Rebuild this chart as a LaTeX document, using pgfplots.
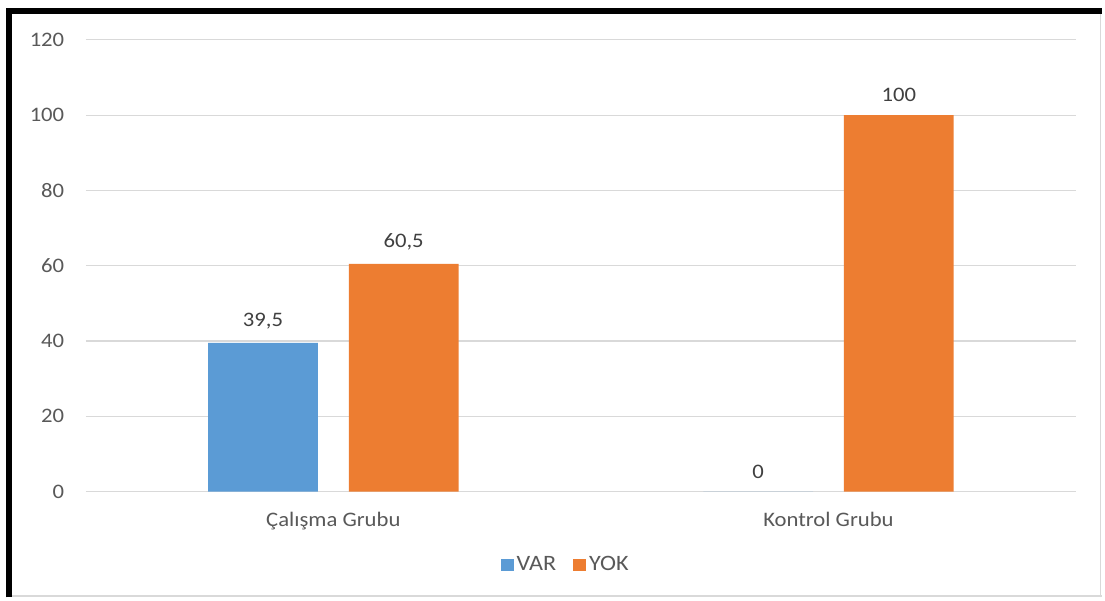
\documentclass[border=0pt]{standalone}
\usepackage{pgfplots}
\pgfplotsset{compat=1.18}
\usepackage{fontspec}
\setmainfont{Carlito}[FakeStretch=1.1]

\definecolor{varblue}{HTML}{5B9BD5}
\definecolor{yokorange}{HTML}{ED7D31}
\definecolor{gridgray}{HTML}{D9D9D9}
\definecolor{ticktext}{HTML}{595959}
\definecolor{labeltext}{HTML}{404040}

\begin{document}
\begin{tikzpicture}
  % page extent and frame
  \fill[white] (0,0) rectangle (828.75pt,449.25pt);
  \draw[gridgray, line width=1.2pt] (827.6pt,0) -- (827.6pt,440pt);
  \draw[gridgray, line width=1.2pt] (8pt,1pt) -- (828.75pt,1pt);
  \draw[black, line width=4.5pt] (6.75pt,0) -- (6.75pt,441pt) -- (828.75pt,441pt);

  \begin{axis}[
    at={(64.5pt,79.5pt)}, anchor=south west,
    scale only axis,
    width=744.75pt, height=339.75pt,
    xmin=-0.5, xmax=1.5,
    ymin=0, ymax=120,
    ybar=23.25pt, bar width=82.5pt,
    xtick={0,1},
    xticklabels={Çalışma Grubu, Kontrol Grubu},
    ytick={0,20,...,120},
    axis line style={draw=none},
    major tick length=0pt,
    ymajorgrids,
    grid style={gridgray, line width=0.9pt},
    /pgf/number format/assume math mode=true,
    tick label style={font=\fontsize{15.5}{18}\selectfont, text=ticktext},
    yticklabel style={inner sep=0pt, xshift=-16pt},
    xticklabel style={inner sep=0pt, yshift=-15.5pt},
    nodes near coords,
    nodes near coords style={font=\fontsize{15.5}{18}\selectfont, text=labeltext,
      /pgf/number format/use comma, /pgf/number format/fixed,
      /pgf/number format/precision=1, /pgf/number format/assume math mode=true},
    every node near coord/.append style={yshift=6.5pt},
    legend style={draw=none, fill=none, at={(0.485,-0.162)}, anchor=center,
      font=\fontsize{16.5}{18}\selectfont, text=ticktext,
      legend columns=2,
      /tikz/every even column/.append style={column sep=11pt}},
    legend image code/.code={\fill[#1] (0pt,-5pt) rectangle (9.75pt,4.75pt);},
  ]
    \addplot[draw=none, fill=varblue] coordinates {(0,39.5) (1,0)};
    \addplot[draw=none, fill=yokorange] coordinates {(0,60.5) (1,100)};
    \legend{VAR, YOK}
  \end{axis}
\end{tikzpicture}
\end{document}
